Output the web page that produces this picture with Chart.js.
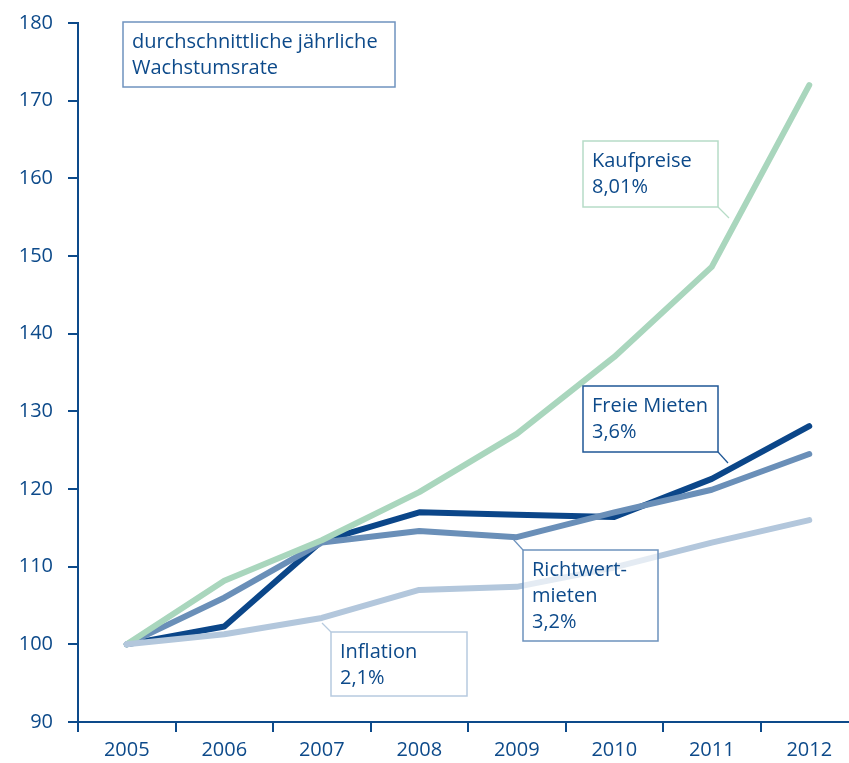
<!DOCTYPE html>
<html>
<head>
<meta charset="utf-8">
<script src="https://cdn.jsdelivr.net/npm/chart.js@4"></script>
<style>
  html, body { margin: 0; padding: 0; background: #fff; }
  #wrap { width: 849px; height: 763px; overflow: hidden; position: relative; }
  #box { width: 858px; height: 763px; }
</style>
</head>
<body>
<div id="wrap"><div id="box"><canvas id="indexChart"></canvas></div></div>
<script>
// Index 2005 = 100
const years = ['2005', '2006', '2007', '2008', '2009', '2010', '2011', '2012'];
const kaufpreise = [100, 108.2, 113.4, 119.6, 127.1, 137.0, 148.6, 172.0];
const freieMieten = [100, 102.3, 113.3, 117.0, 116.7, 116.4, 121.3, 128.1];
const richtwertMieten = [100, 106.0, 113.1, 114.6, 113.8, 117.0, 119.9, 124.5];
const inflation = [100, 101.3, 103.4, 107.0, 107.4, 109.9, 113.1, 116.0];
const yTicks = [90, 100, 110, 120, 130, 140, 150, 160, 170, 180];

const navy = '#0d4a8a';
const fontFam = '"Open Sans", Lato, sans-serif';

// text boxes drawn on top of the lines
const boxes = [
  { x: 123, y: 22, w: 272, h: 65, border: '#6f93bf', lines: ['durchschnittliche jährliche', 'Wachstumsrate'] },
  { x: 583, y: 141, w: 135, h: 66, border: '#b6dcc7', lines: ['Kaufpreise', '8,01%'], leader: [718, 207, 729, 218] },
  { x: 583, y: 386, w: 135, h: 66, border: '#1f5796', lines: ['Freie Mieten', '3,6%'], leader: [718, 452, 728, 463] },
  { x: 523, y: 550, w: 135, h: 91, border: '#6d92bd', lines: ['Richtwert-', 'mieten', '3,2%'], leader: [523, 550, 513, 539] },
  { x: 331, y: 632, w: 136, h: 64, border: '#b7cadf', lines: ['Inflation', '2,1%'], leader: [331, 632, 322, 623] }
];

const boxPlugin = {
  id: 'boxes',
  afterDatasetsDraw(chart) {
    const ctx = chart.ctx;
    ctx.save();
    boxes.forEach(b => {
      if (b.leader) {
        ctx.strokeStyle = b.border;
        ctx.lineWidth = 1.2;
        ctx.beginPath();
        ctx.moveTo(b.leader[0], b.leader[1]);
        ctx.lineTo(b.leader[2], b.leader[3]);
        ctx.stroke();
      }
      ctx.fillStyle = 'rgba(255,255,255,0.65)';
      ctx.fillRect(b.x, b.y, b.w, b.h);
      ctx.strokeStyle = b.border;
      ctx.lineWidth = 1.5;
      ctx.strokeRect(b.x, b.y, b.w, b.h);
      ctx.fillStyle = navy;
      ctx.font = '500 20px ' + fontFam;
      ctx.textBaseline = 'middle';
      ctx.textAlign = 'left';
      b.lines.forEach((t, i) => {
        ctx.fillText(t, b.x + 9, b.y + 20 + i * 26);
      });
    });
    ctx.restore();
  }
};

function ds(label, data, color) {
  return {
    label: label, data: data, borderColor: color, backgroundColor: color,
    borderWidth: 6, pointRadius: 0, tension: 0, fill: false,
    borderCapStyle: 'round', borderJoinStyle: 'round'
  };
}

const ctx = document.getElementById('indexChart').getContext('2d');
new Chart(ctx, {
  type: 'line',
  data: {
    labels: years,
    datasets: [
      ds('Inflation', inflation, '#b3c7dc'),
      ds('Kaufpreise', kaufpreise, '#a9d6bd'),
      ds('Richtwertmieten', richtwertMieten, '#6a8fb8'),
      ds('Freie Mieten', freieMieten, '#0b4689')
    ]
  },
  options: {
    responsive: true,
    maintainAspectRatio: false,
    animation: false,
    layout: { padding: { top: 22, right: 0, left: 0, bottom: 0 } },
    plugins: { legend: { display: false }, tooltip: { enabled: false } },
    scales: {
      x: {
        offset: true,
        grid: { drawOnChartArea: false, drawTicks: true, tickLength: 10, color: navy, lineWidth: 2, offset: true },
        border: { color: navy, width: 2 },
        ticks: { color: navy, font: { family: fontFam, size: 20, weight: '500', lineHeight: 1 }, padding: 8 },
        afterFit: s => { s.height = 41; }
      },
      y: {
        min: 90, max: 180,
        afterBuildTicks: s => { s.ticks = yTicks.map(v => ({ value: v })); },
        grid: { drawOnChartArea: false, drawTicks: true, tickLength: 10, color: navy, lineWidth: 2 },
        border: { color: navy, width: 2 },
        ticks: { color: navy, font: { family: fontFam, size: 20, weight: '500', lineHeight: 0.8 }, padding: 15 },
        afterFit: s => { s.width = 78; }
      }
    }
  },
  plugins: [boxPlugin]
});
</script>
</body>
</html>
